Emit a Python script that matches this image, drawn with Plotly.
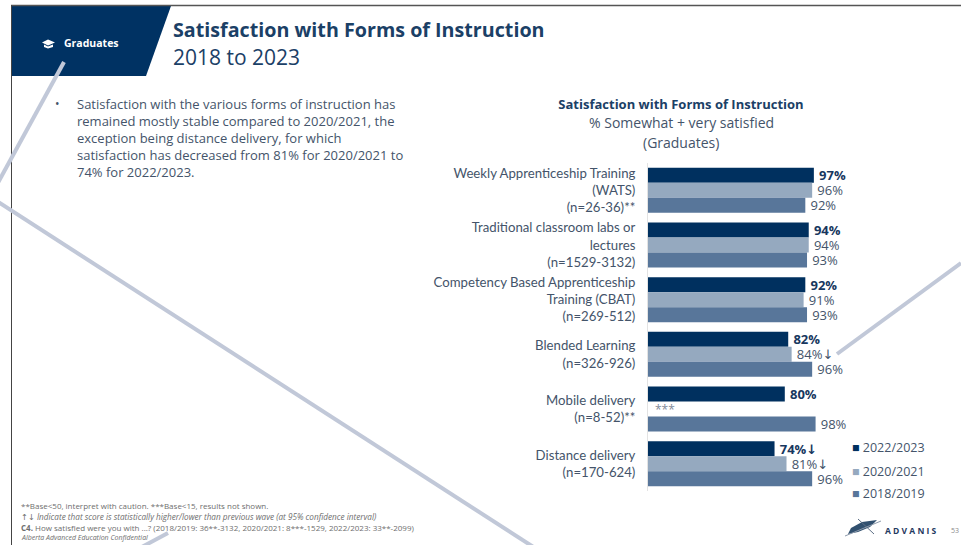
"""
plot.py

Survey slide: satisfaction with forms of instruction, grouped horizontal bars.
"""

import plotly.graph_objects as go

ARROW = '<span style="font-family:DejaVu Sans">↓</span>'
ARROW_UP = '<span style="font-family:DejaVu Sans">↑</span>'

categories = [
    "Weekly Apprenticeship Training<br>(WATS)<br>(n=26-36)**",
    "Traditional classroom labs or<br>lectures<br>(n=1529-3132)",
    "Competency Based Apprenticeship<br>Training (CBAT)<br>(n=269-512)",
    "Blended Learning<br>(n=326-926)",
    "Mobile delivery<br>(n=8-52)**",
    "Distance delivery<br>(n=170-624)",
]

series_names = ["2022/2023", "2020/2021", "2018/2019"]
values_2022 = [97, 94, 92, 82, 80, 74]
values_2020 = [96, 94, 91, 84, None, 81]
values_2018 = [92, 93, 93, 96, 98, 96]

labels_2022 = ["97%", "94%", "92%", "82%", "80%", "74%" + ARROW]
labels_2020 = ["96%", "94%", "91%", "84%" + ARROW, "", "81%" + ARROW]
labels_2018 = ["92%", "93%", "93%", "96%", "98%", "96%"]

COLOR_2022 = "#00305f"
COLOR_2020 = "#95a9bf"
COLOR_2018 = "#58769a"
TEXT = "#44546a"
NAVY = "#17375e"
FONT = "Open Sans"

WIDTH, HEIGHT = 961, 545
LEFT, RIGHT, TOP, BOTTOM = 648, 819, 163, 491


def px(x):
    return (x - LEFT) / (RIGHT - LEFT)


def py(y):
    return (BOTTOM - y) / (BOTTOM - TOP)


def note(x, y, text, size, color=TEXT, xanchor="left", align="left", yanchor="middle"):
    return dict(
        x=px(x), y=py(y), xref="paper", yref="paper", text=text, showarrow=False,
        xanchor=xanchor, yanchor=yanchor, align=align, borderpad=0,
        font=dict(family=FONT, size=size, color=color),
    )


def line_shape(x0, y0, x1, y1, color, width):
    return dict(
        type="line", xref="paper", yref="paper", layer="above",
        x0=px(x0), y0=py(y0), x1=px(x1), y1=py(y1),
        line=dict(color=color, width=width),
    )


def path_shape(points, color):
    path = "M" + " L".join(f"{px(x):.4f},{py(y):.4f}" for x, y in points) + " Z"
    return dict(
        type="path", xref="paper", yref="paper", layer="above",
        path=path, fillcolor=color, line=dict(width=0),
    )


fig = go.Figure()
for name, values, labels, color, weight in [
    (series_names[0], values_2022, labels_2022, COLOR_2022, "bold"),
    (series_names[1], values_2020, labels_2020, COLOR_2020, "normal"),
    (series_names[2], values_2018, labels_2018, COLOR_2018, "normal"),
]:
    fig.add_trace(go.Bar(
        name=name, x=values, y=categories, orientation="h",
        marker=dict(color=color, line=dict(width=0)),
        text=labels, texttemplate="\u2009%{text}", textposition="outside",
        cliponaxis=False, constraintext="none",
        textfont=dict(family=FONT, size=13, color=TEXT if weight == "normal" else NAVY, weight=weight),
    ))

annotations = [
    note(172, 29, "<b>Satisfaction with Forms of Instruction</b>", 19.7, "#1b4066"),
    note(172, 57, "2018 to 2023", 21, "#1b4066"),
    note(63, 43, "<b>Graduates</b>", 10.5, "white"),
    note(54, 103, "•", 12),
    note(76, 137.5,
         "Satisfaction with the various forms of instruction has<br>"
         "remained mostly stable compared to 2020/2021, the<br>"
         "exception being distance delivery, for which<br>"
         "satisfaction has decreased from 81% for 2020/2021 to<br>"
         "74% for 2022/2023.", 13),
    note(681, 123, "% Somewhat + very satisfied", 14, xanchor="center", align="center"),
    note(681, 143, "(Graduates)", 14, xanchor="center", align="center"),
    note(20, 505, "**Base&lt;50, interpret with caution. ***Base&lt;15, results not shown.", 8, "#6e6e6e"),
    note(20, 516, ARROW_UP + ARROW + " <i>Indicate that score is statistically higher/lower than previous wave (at 95% confidence interval)</i>", 8.2, "#6e6e6e"),
    note(20, 527, "<b>C4.</b> How satisfied were you with ...? (2018/2019: 36**-3132, 2020/2021: 8***-1529, 2022/2023: 33**-2099)", 8, "#6e6e6e"),
    note(20, 537, "<i>Alberta Advanced Education Confidential</i>", 7, "#6e6e6e"),
    note(884, 530, "<b>A D V A N I S</b>", 8.5, "#1f3a5f"),
    note(950, 530, "53", 7, "#8a8a8a"),
    dict(x=3, y=categories[4], xref="x", yref="y", text="***", showarrow=False,
         xanchor="left", yanchor="middle", font=dict(family=FONT, size=12, color="#7f8a99")),
]

# legend is drawn by hand: plotly's own swatches are too big and too far from the text
for name, color, y in zip(series_names, [COLOR_2022, COLOR_2020, COLOR_2018], [447, 471, 494]):
    annotations.append(note(851, y, f'<span style="color:{color}">■</span> {name}', 12.5))

shapes = [
    path_shape([(12, 6), (171, 6), (146, 76), (12, 76)], "#003263"),
    line_shape(11, 5.5, 961, 5.5, "#555555", 1.5),
    line_shape(11.5, 5, 11.5, 545, "#444444", 1),
    # graduation cap
    path_shape([(42, 42.5), (48, 39.5), (55, 42.5), (48, 45.5)], "white"),
    path_shape([(44, 44.5), (48, 46.5), (53, 44.5), (53, 47), (48, 48.5), (44, 47)], "white"),
    # logo
    path_shape([(851, 528), (862, 522), (877, 520), (870, 527), (858, 532), (848, 534)], "#31506f"),
    line_shape(858, 519, 874, 534, "#5d6f85", 1),
    line_shape(845, 536, 881, 521, "#8d9aab", 1),
    # grey strokes lying across the slide
    line_shape(64, 62, -6, 190, "#c1c8d8", 4),
    line_shape(-5, 200, 535, 548, "#c1c8d8", 4),
    line_shape(168, 533, 125, 556, "#c1c8d8", 4),
    line_shape(961, 263, 837, 354, "#c1c8d8", 4),
]

fig.update_layout(
    width=WIDTH, height=HEIGHT,
    margin=dict(l=LEFT, r=WIDTH - RIGHT, t=TOP, b=HEIGHT - BOTTOM, pad=0),
    paper_bgcolor="white", plot_bgcolor="white",
    barmode="group", bargap=0.176, bargroupgap=0,
    showlegend=False,
    title=dict(
        text="<b>Satisfaction with Forms of Instruction</b>",
        x=681 / WIDTH, y=1 - 104 / HEIGHT, xanchor="center", yanchor="middle",
        font=dict(family=FONT, size=13, color="#1b4066"),
    ),
    xaxis=dict(range=[0, 100], visible=False, fixedrange=True),
    yaxis=dict(
        autorange="reversed", showgrid=False, zeroline=False,
        showline=True, linecolor="#e3e3e3", linewidth=1,
        ticks="outside", ticklen=9, tickcolor="white",
        tickfont=dict(family="Lato", size=13.2, color=TEXT),
    ),
    annotations=annotations,
    shapes=shapes,
)

fig.write_html("out.html", config=dict(displayModeBar=False), post_script="document.body.style.margin='0';")
